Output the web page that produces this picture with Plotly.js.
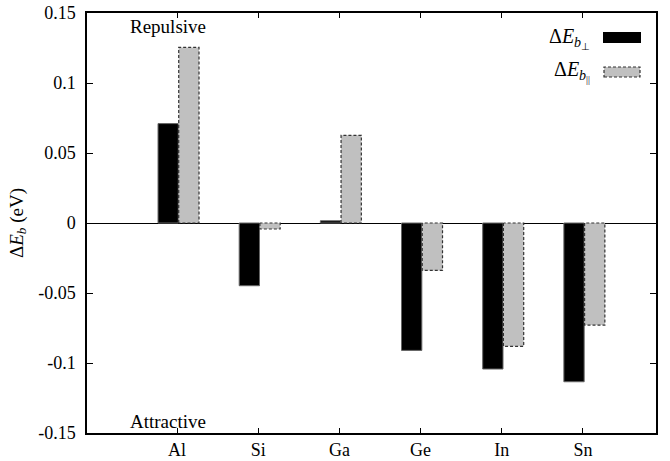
<!DOCTYPE html>
<html>
<head>
<meta charset="utf-8">
<script src="https://cdn.plot.ly/plotly-3.0.1.min.js"></script>
<style>html,body{margin:0;padding:0;background:#fff;}#chart{width:670px;height:461px;}</style>
</head>
<body>
<div id="chart"></div>
<script>
// Data
var categories = ["Al", "Si", "Ga", "Ge", "In", "Sn"];
var dEbPerp = [0.071, -0.0448, 0.0016, -0.091, -0.1043, -0.1134];
var dEbPar  = [0.1254, -0.0043, 0.0626, -0.0339, -0.0881, -0.0729];
var yTickVals = [-0.15, -0.1, -0.05, 0, 0.05, 0.1, 0.15];
var yTickText = ["-0.15", "-0.1", "-0.05", "0", "0.05", "0.1", "0.15"];

var idx = categories.map(function(c, i){ return i; });
var BW = 0.25, OFF_PERP = -0.235, OFF_PAR = 0.02;
var FONT = "Liberation Serif";

// dashed outline of the parallel bars, derived from the data
var ox = [], oy = [];
dEbPar.forEach(function(v, i){
  var x0 = i + OFF_PAR, x1 = x0 + BW;
  ox.push(x0, x0, x1, x1, x0, null);
  oy.push(0, v, v, 0, 0, null);
});

var traces = [
  {type: "bar", x: idx, y: dEbPerp, width: BW, offset: OFF_PERP,
   marker: {color: "#000000", line: {color: "#666666", width: 1}},
   showlegend: false, hoverinfo: "skip"},
  {type: "bar", x: idx, y: dEbPar, width: BW, offset: OFF_PAR,
   marker: {color: "#c0c0c0", line: {width: 0}},
   showlegend: false, hoverinfo: "skip"},
  {type: "scatter", mode: "lines", x: ox, y: oy,
   line: {color: "#333333", width: 1.2, dash: "3px,2px"},
   showlegend: false, hoverinfo: "skip"}
];

var layout = {
  width: 670, height: 461,
  margin: {l: 87, r: 14, t: 13, b: 28},
  paper_bgcolor: "#ffffff", plot_bgcolor: "#ffffff",
  barmode: "overlay",
  font: {family: FONT, size: 17, color: "#000"},
  xaxis: {
    range: [-1.11, 5.90], tickmode: "array", tickvals: idx, ticktext: categories,
    showline: true, linecolor: "#000", linewidth: 1.5, mirror: "ticks",
    ticks: "inside", ticklen: 5, tickwidth: 1, tickcolor: "#000",
    showgrid: false, zeroline: false, fixedrange: true,
    tickfont: {family: FONT, size: 18}
  },
  yaxis: {
    range: [-0.15, 0.15], tickmode: "array", tickvals: yTickVals, ticktext: yTickText,
    showline: true, linecolor: "#000", linewidth: 1.5, mirror: "ticks",
    ticks: "inside", ticklen: 6, tickwidth: 1, tickcolor: "#000",
    showgrid: false, zeroline: true, zerolinecolor: "#000", zerolinewidth: 1,
    fixedrange: true, tickfont: {family: FONT, size: 18}, ticklabelstandoff: 6,
    title: {text: "Δ<i>E</i><sub><i>b</i></sub> (eV)", font: {family: FONT, size: 19}, standoff: 10}
  },
  shapes: [
    {type: "rect", xref: "paper", yref: "paper",
     x0: (603-87)/569, x1: (641-87)/569, y0: (433-43)/420, y1: (433-32)/420,
     fillcolor: "#000", line: {width: 0}},
    {type: "rect", xref: "paper", yref: "paper",
     x0: (604-87)/569, x1: (640-87)/569, y0: (433-77)/420, y1: (433-67)/420,
     fillcolor: "#c0c0c0", line: {color: "#333", width: 1.2, dash: "3px,2px"}}
  ],
  annotations: [
    {xref: "paper", yref: "paper", x: (168-87)/569, y: (433-27)/420, text: "Repulsive",
     showarrow: false, xanchor: "center", yanchor: "middle", font: {family: FONT, size: 19}},
    {xref: "paper", yref: "paper", x: (168-87)/569, y: (433-421)/420, text: "Attractive",
     showarrow: false, xanchor: "center", yanchor: "middle", font: {family: FONT, size: 19}},
    {xref: "paper", yref: "paper", x: (592-87)/569, y: (433-38)/420,
     text: "Δ<i>E</i><sub><i>b</i><sub>⊥</sub></sub>",
     showarrow: false, xanchor: "right", yanchor: "middle", font: {family: FONT, size: 20}},
    {xref: "paper", yref: "paper", x: (592-87)/569, y: (433-72)/420,
     text: "Δ<i>E</i><sub><i>b</i><sub>||</sub></sub>",
     showarrow: false, xanchor: "right", yanchor: "middle", font: {family: FONT, size: 20}}
  ]
};

Plotly.newPlot("chart", traces, layout, {displayModeBar: false});
</script>
</body>
</html>
